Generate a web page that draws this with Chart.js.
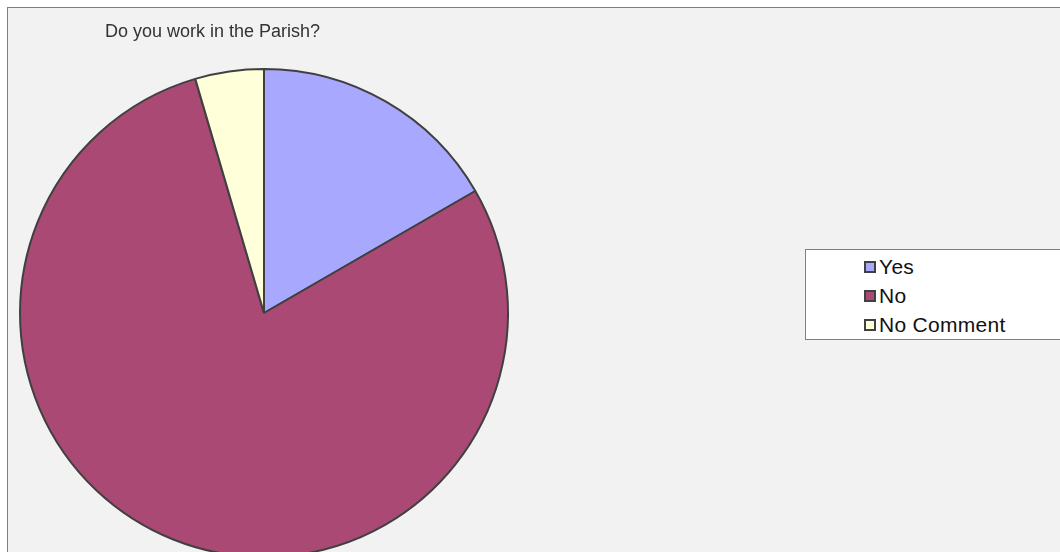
<!DOCTYPE html>
<html>
<head>
<meta charset="utf-8">
<script src="https://cdn.jsdelivr.net/npm/chart.js@4/dist/chart.umd.min.js"></script>
<style>
  html, body { margin: 0; padding: 0; background: #fff; overflow: hidden; width: 1060px; height: 552px; }
  #frame { position: absolute; left: 7px; top: 7px; width: 1060px; height: 560px; background: #f2f2f2; border: 1px solid #7f7f7f; }
  #wrap { position: absolute; left: 0; top: 0; width: 528px; height: 626px; }
  #title { position: absolute; left: 105px; top: 21px; font: 18px "Liberation Sans", Arial, sans-serif; color: #333; white-space: nowrap; }
  #legend { position: absolute; left: 805px; top: 249px; width: 270px; height: 89px; border: 1px solid #7f7f7f; background: #fff; font: 21px "Liberation Sans", Arial, sans-serif; color: #111; }
  .item { position: absolute; left: 58px; height: 24px; line-height: 24px; white-space: nowrap; letter-spacing: 0.3px; }
  .box { display: inline-block; width: 8px; height: 8px; border: 2px solid #404040; margin-right: 3px; vertical-align: 1px; }
</style>
</head>
<body>
<div id="frame"></div>
<div id="wrap"><canvas id="pie"></canvas></div>
<div id="title">Do you work in the Parish?</div>
<div id="legend"></div>
<script>
  const labels = ['Yes', 'No', 'No Comment'];
  const values = [11, 52, 3];
  const colors = ['#a8a9fe', '#a94974', '#ffffd9'];

  const ctx = document.getElementById('pie');

  const configPie = {
    type: 'pie',
    data: {
      labels: labels,
      datasets: [{
        data: values,
        backgroundColor: colors,
        borderColor: '#404040',
        borderWidth: 2,
        hoverOffset: 0
      }]
    },
    options: {
      responsive: true,
      maintainAspectRatio: false,
      animation: false,
      layout: { padding: 19 },
      plugins: {
        legend: { display: false },
        title: { display: false },
        tooltip: { enabled: false }
      }
    }
  };

  new Chart(ctx, configPie);

  // legend built from the same arrays
  const legend = document.getElementById('legend');
  labels.forEach(function(lab, i) {
    const item = document.createElement('div');
    item.className = 'item';
    item.style.top = (5 + i * 29) + 'px';
    item.innerHTML = '<span class="box" style="background:' + colors[i] + '"></span>' + lab;
    legend.appendChild(item);
  });
</script>
</body>
</html>
